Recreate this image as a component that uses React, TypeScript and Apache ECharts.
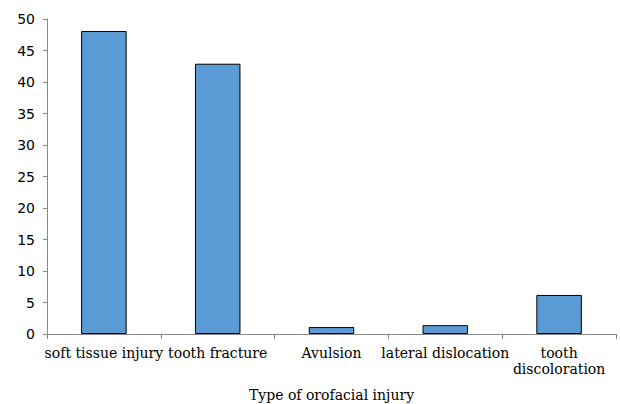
import React, { useEffect, useRef } from "react";
import * as echarts from "echarts";

const categories = ["soft tissue injury", "tooth fracture", "Avulsion", "lateral dislocation", "tooth\ndiscoloration"];
const values = [48.1, 42.9, 1.1, 1.4, 6.2];
const yTicks = { min: 0, max: 50, interval: 5 };

export default function App() {
  const ref = useRef<HTMLDivElement>(null);
  useEffect(() => {
    const chart = echarts.init(ref.current!, null, { renderer: "svg" });
    chart.setOption({
      animation: false,
      grid: { left: 47, right: 4, top: 19, bottom: 70, containLabel: false, outerBoundsMode: "none" },
      xAxis: {
        type: "category",
        data: categories,
        name: "Type of orofacial injury",
        nameLocation: "middle",
        nameGap: 54,
        nameTextStyle: { fontFamily: "DejaVu Serif", fontSize: 14, color: "#000" },
        axisLine: { lineStyle: { color: "#888", width: 1 } },
        axisTick: { show: true, length: 5, lineStyle: { color: "#888" } },
        axisLabel: { fontFamily: "DejaVu Serif", fontSize: 14, color: "#000", interval: 0, margin: 11, lineHeight: 16 },
      },
      yAxis: {
        type: "value",
        min: yTicks.min,
        max: yTicks.max,
        interval: yTicks.interval,
        splitLine: { show: false },
        axisLine: { show: true, lineStyle: { color: "#888", width: 1 } },
        axisTick: { show: true, length: 4, lineStyle: { color: "#888" } },
        axisLabel: { fontFamily: "DejaVu Sans", fontSize: 14, color: "#000", margin: 12 },
      },
      series: [
        {
          type: "bar",
          data: values,
          barCategoryGap: "60%",
          itemStyle: { color: "#5B9BD5", borderColor: "#000", borderWidth: 1 },
        },
      ],
    });
    return () => chart.dispose();
  }, []);
  return <div ref={ref} style={{ width: 620, height: 404, position: "absolute", left: 0, top: 0 }} />;
}
